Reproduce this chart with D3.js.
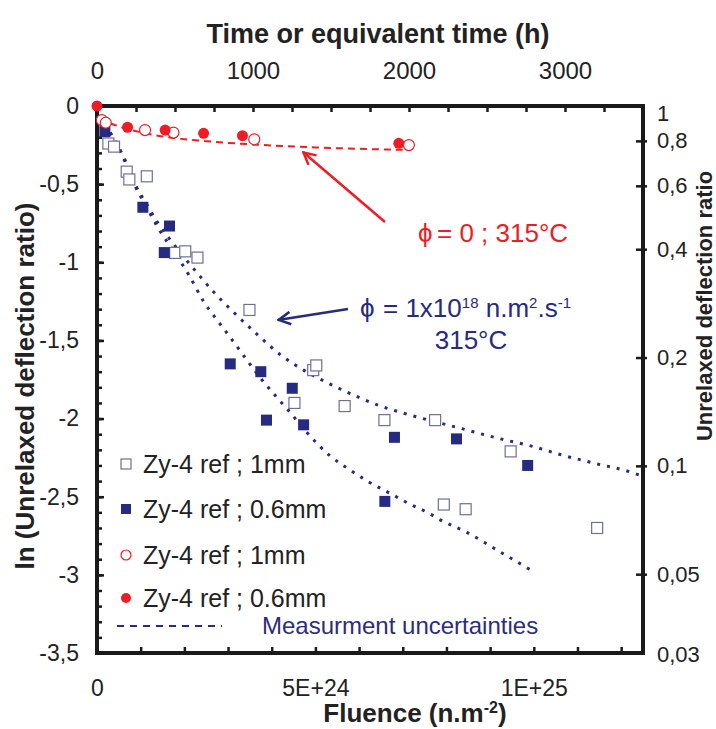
<!DOCTYPE html>
<html><head><meta charset="utf-8">
<script src="https://cdn.jsdelivr.net/npm/d3@7"></script>
<style>
body{margin:0;background:#fff;}
svg text{font-family:"Liberation Sans",Arial,sans-serif;}
</style></head><body>
<svg id="c" width="716" height="729"></svg>
<script>
// ---------- data (fluence in n.m-2, ln of unrelaxed deflection ratio) ----------
const openSqF   = [0.26e24,0.39e24,0.68e24,0.74e24,1.14e24,1.79e24,2.02e24,2.30e24,3.49e24,4.95e24,5.02e24,4.52e24,5.67e24,6.58e24,7.74e24,9.47e24,7.94e24,8.44e24,11.45e24];
const openSqLn  = [-0.24,-0.26,-0.42,-0.47,-0.45,-0.94,-0.93,-0.97,-1.305,-1.69,-1.66,-1.90,-1.92,-2.01,-2.01,-2.21,-2.55,-2.58,-2.70];
const fillSqF   = [0.18e24,1.05e24,1.66e24,1.54e24,3.05e24,3.75e24,4.47e24,3.88e24,4.73e24,6.81e24,8.23e24,9.86e24,6.59e24];
const fillSqLn  = [-0.164,-0.648,-0.768,-0.938,-1.65,-1.70,-1.806,-2.01,-2.04,-2.12,-2.13,-2.30,-2.53];
const fillCircF = [0,0.70e24,1.56e24,2.44e24,3.33e24,6.91e24];
const fillCircLn= [0,-0.136,-0.154,-0.175,-0.19,-0.239];
const openCircF = [0.11e24,0.20e24,1.10e24,1.75e24,3.60e24,7.14e24];
const openCircLn= [-0.09,-0.107,-0.154,-0.17,-0.213,-0.25];
// fitted curves
const redFitF   = [0.3e24,0.6e24,1.0e24,1.5e24,2.0e24,2.5e24,3.0e24,3.5e24,4.0e24,5.0e24,6.0e24,7.0e24];
const redFitLn  = [-0.11,-0.14,-0.168,-0.195,-0.212,-0.225,-0.236,-0.245,-0.253,-0.265,-0.274,-0.28];
const upFitF    = [0.3e24,0.6e24,0.87e24,1.14e24,1.4e24,1.8e24,2.06e24,2.36e24,2.67e24,3.13e24,3.66e24,4.24e24,4.73e24,5.34e24,5.96e24,6.49e24,6.95e24,8.29e24,9.24e24,10.0e24,10.6e24,11.3e24,12.3e24,12.5e24];
const upFitLn   = [-0.17,-0.32,-0.5,-0.63,-0.75,-0.9,-0.99,-1.09,-1.19,-1.32,-1.46,-1.6,-1.69,-1.78,-1.86,-1.92,-1.96,-2.06,-2.13,-2.18,-2.23,-2.28,-2.35,-2.37];
const loFitF    = [0.3e24,0.6e24,0.87e24,1.14e24,1.4e24,1.83e24,2.1e24,2.44e24,2.75e24,3.05e24,3.47e24,3.74e24,4.04e24,4.39e24,4.81e24,5.34e24,5.80e24,6.19e24,6.72e24,7.18e24,7.56e24,7.87e24,8.48e24,9.09e24,10.0e24];
const loFitLn   = [-0.17,-0.33,-0.51,-0.65,-0.78,-0.96,-1.08,-1.25,-1.37,-1.48,-1.64,-1.74,-1.84,-1.95,-2.09,-2.24,-2.33,-2.40,-2.48,-2.55,-2.60,-2.65,-2.73,-2.83,-2.98];
// ticks
const leftTicks   = [0,-0.5,-1,-1.5,-2,-2.5,-3,-3.5];
const bottomTicks = [0,5e24,1e25];
const bottomLabels= ["0","5E+24","1E+25"];
const topTicks    = [0,1000,2000,3000];
const rightTicks  = [1,0.8,0.6,0.4,0.2,0.1,0.05,0.03];
const legendLabels= ["Zy-4 ref ; 1mm","Zy-4 ref ; 0.6mm","Zy-4 ref ; 1mm","Zy-4 ref ; 0.6mm"];

// ---------- layout ----------
const L=97,R=643,T=106,B=653;
const svg=d3.select("#c");
const x=d3.scaleLinear().domain([0,12.5e24]).range([L,R]);
const xTop=d3.scaleLinear().domain([0,3500]).range([L,R]);
const y=d3.scaleLinear().domain([0,-3.5]).range([T,B]);
const yR=d3.scaleLog().domain([1,Math.exp(-3.5)]).range([T,B]);
const comma=v=>String(v).replace(".",",");
const BLUE="#262a80", RED="#ee1c24", AXC="#1a1a1a";

svg.append("rect").attr("width",716).attr("height",729).attr("fill","#fff");

// ---------- axes ----------
function styleAxis(g,fs){
  g.select(".domain").remove();
  g.selectAll(".tick line").attr("stroke",AXC).attr("stroke-width",2.5);
  g.selectAll("text").attr("fill","#222").style("font-size",fs+"px");
}
svg.append("g").attr("transform",`translate(${L},0)`)
  .call(d3.axisLeft(y).tickValues(d3.range(0,36).map(i=>-i/10)).tickSize(-5).tickFormat(""))
  .call(g=>styleAxis(g,20));
svg.append("g").attr("transform",`translate(${L},0)`)
  .call(d3.axisLeft(y).tickValues(leftTicks).tickSize(-7).tickPadding(18).tickFormat(comma))
  .call(g=>styleAxis(g,23));
svg.append("g").attr("transform",`translate(0,${B})`)
  .call(d3.axisBottom(x).tickValues(d3.range(1,13).map(i=>i*1e24)).tickSize(-6).tickFormat(""))
  .call(g=>styleAxis(g,20));
svg.append("g").attr("transform",`translate(0,${B})`)
  .call(d3.axisBottom(x).tickValues(bottomTicks).tickSize(0).tickPadding(27).tickFormat((d,i)=>bottomLabels[i]))
  .call(g=>styleAxis(g,23));
svg.append("g").attr("transform",`translate(0,${T})`)
  .call(d3.axisTop(xTop).tickValues(d3.range(1,14).map(i=>i*250)).tickSize(-6).tickFormat(""))
  .call(g=>styleAxis(g,20));
svg.append("g").attr("transform",`translate(0,${T})`)
  .call(d3.axisTop(xTop).tickValues(topTicks).tickSize(0).tickPadding(27).tickFormat(d=>String(d)))
  .call(g=>styleAxis(g,24));
const gr=svg.append("g").attr("transform",`translate(${R},0)`)
  .call(d3.axisRight(yR).tickValues(rightTicks).tickSize(4).tickPadding(10).tickFormat(comma))
  .call(g=>styleAxis(g,22));
gr.selectAll(".tick line").attr("x1",-7);
gr.selectAll(".tick").filter(d=>d===1||d===0.03).select("line").remove();
gr.selectAll(".tick").filter(d=>d===1).select("text").attr("dy","0.65em");

svg.append("rect").attr("x",L).attr("y",T).attr("width",R-L).attr("height",B-T)
  .attr("fill","none").attr("stroke",AXC).attr("stroke-width",4);

// axis titles
svg.append("text").attr("x",378).attr("y",43).attr("text-anchor","middle")
  .style("font-weight","bold").style("font-size","27px").attr("fill","#222").text("Time or equivalent time (h)");
const ft=svg.append("text").attr("x",415).attr("y",722).attr("text-anchor","middle")
  .style("font-weight","bold").style("font-size","26px").attr("fill","#222");
ft.append("tspan").text("Fluence (n.m");
ft.append("tspan").attr("dy",-9).style("font-size","16px").text("-2");
ft.append("tspan").attr("dy",9).text(")");
svg.append("text").attr("transform","translate(34,386) rotate(-90)").attr("text-anchor","middle")
  .style("font-weight","bold").style("font-size","26px").attr("fill","#222").text("ln (Unrelaxed deflection ratio)");
svg.append("text").attr("transform","translate(712,306) rotate(-90)").attr("text-anchor","middle")
  .style("font-weight","bold").style("font-size","22px").attr("fill","#222").text("Unrelaxed deflection ratio");

// ---------- fit lines ----------
const line=d3.line().x(d=>x(d[0])).y(d=>y(d[1])).curve(d3.curveMonotoneX);
const zip=(a,b)=>a.map((v,i)=>[v,b[i]]);
svg.append("path").attr("d",line(zip(redFitF,redFitLn))).attr("fill","none")
  .attr("stroke",RED).attr("stroke-width",2).attr("stroke-dasharray","7,5");
[zip(upFitF,upFitLn),zip(loFitF,loFitLn)].forEach(pts=>{
  svg.append("path").attr("d",line(pts)).attr("fill","none")
    .attr("stroke",BLUE).attr("stroke-width",3).attr("stroke-dasharray","3,7");
});

// ---------- markers ----------
const S=11;
svg.append("g").selectAll("rect").data(zip(openSqF,openSqLn)).join("rect")
  .attr("x",d=>x(d[0])-S/2).attr("y",d=>y(d[1])-S/2).attr("width",S).attr("height",S)
  .attr("fill","#fff").attr("stroke","#6e7096").attr("stroke-width",1.2);
svg.append("g").selectAll("rect").data(zip(fillSqF,fillSqLn)).join("rect")
  .attr("x",d=>x(d[0])-S/2).attr("y",d=>y(d[1])-S/2).attr("width",S).attr("height",S)
  .attr("fill",BLUE);
svg.append("g").selectAll("circle").data(zip(openCircF,openCircLn)).join("circle")
  .attr("cx",d=>x(d[0])).attr("cy",d=>y(d[1])).attr("r",5.5)
  .attr("fill","#fff").attr("stroke",RED).attr("stroke-width",1.2);
svg.append("g").selectAll("circle").data(zip(fillCircF,fillCircLn)).join("circle")
  .attr("cx",d=>x(d[0])).attr("cy",d=>y(d[1])).attr("r",5.5).attr("fill",RED);

// ---------- annotations ----------
const defs=svg.append("defs");
[["ar",RED],["ab",BLUE]].forEach(([id,c])=>{
  defs.append("marker").attr("id",id).attr("viewBox","0 0 12 12").attr("refX",1).attr("refY",6)
    .attr("markerWidth",6).attr("markerHeight",6).attr("orient","auto").attr("markerUnits","strokeWidth")
    .append("path").attr("d","M11,1 L1.5,6 L11,11").attr("fill","none").attr("stroke",c).attr("stroke-width",2);
});
svg.append("line").attr("x1",303).attr("y1",152).attr("x2",385).attr("y2",222)
  .attr("stroke",RED).attr("stroke-width",2.5).attr("marker-start","url(#ar)");
svg.append("line").attr("x1",278).attr("y1",320).attr("x2",348).attr("y2",309)
  .attr("stroke",BLUE).attr("stroke-width",2.5).attr("marker-start","url(#ab)");

svg.append("text").attr("x",418).attr("y",242).attr("fill",RED).style("font-size","26px").text("ϕ");
svg.append("text").attr("x",437).attr("y",242).attr("fill",RED).style("font-size","26px").text("= 0 ; 315°C");
svg.append("text").attr("x",360).attr("y",317).attr("fill",BLUE).style("font-size","26px").text("ϕ");
const bt=svg.append("text").attr("x",383).attr("y",317).attr("fill",BLUE).style("font-size","26px");
bt.append("tspan").text("= 1x10");
bt.append("tspan").attr("dy",-9).style("font-size","15px").text("18");
bt.append("tspan").attr("dy",9).text(" n.m");
bt.append("tspan").attr("dy",-9).style("font-size","15px").text("2");
bt.append("tspan").attr("dy",9).text(".s");
bt.append("tspan").attr("dy",-9).style("font-size","15px").text("-1");
svg.append("text").attr("x",471).attr("y",349).attr("text-anchor","middle").attr("fill",BLUE)
  .style("font-size","26px").text("315°C");

// ---------- legend ----------
const legY=[464,509,555,598];
const lg=svg.append("g");
lg.append("rect").attr("x",121).attr("y",legY[0]-5).attr("width",10).attr("height",10)
  .attr("fill","#fff").attr("stroke","#6e7096").attr("stroke-width",1.2);
lg.append("rect").attr("x",121).attr("y",legY[1]-5).attr("width",10).attr("height",10).attr("fill",BLUE);
lg.append("circle").attr("cx",126).attr("cy",legY[2]).attr("r",5).attr("fill","#fff").attr("stroke",RED).attr("stroke-width",1.2);
lg.append("circle").attr("cx",126).attr("cy",legY[3]).attr("r",5).attr("fill",RED);
lg.selectAll("text.l").data(legendLabels).join("text").attr("class","l")
  .attr("x",143).attr("y",(d,i)=>legY[i]).attr("dy","0.36em").attr("fill","#222")
  .style("font-size","25px").text(d=>d);
lg.append("line").attr("x1",117).attr("x2",222).attr("y1",626).attr("y2",626)
  .attr("stroke",BLUE).attr("stroke-width",2).attr("stroke-dasharray","7,6");
lg.append("text").attr("x",262).attr("y",625).attr("dy","0.36em").attr("fill","#2b2d7c")
  .style("font-size","24px").text("Measurment uncertainties");
</script>
</body></html>
